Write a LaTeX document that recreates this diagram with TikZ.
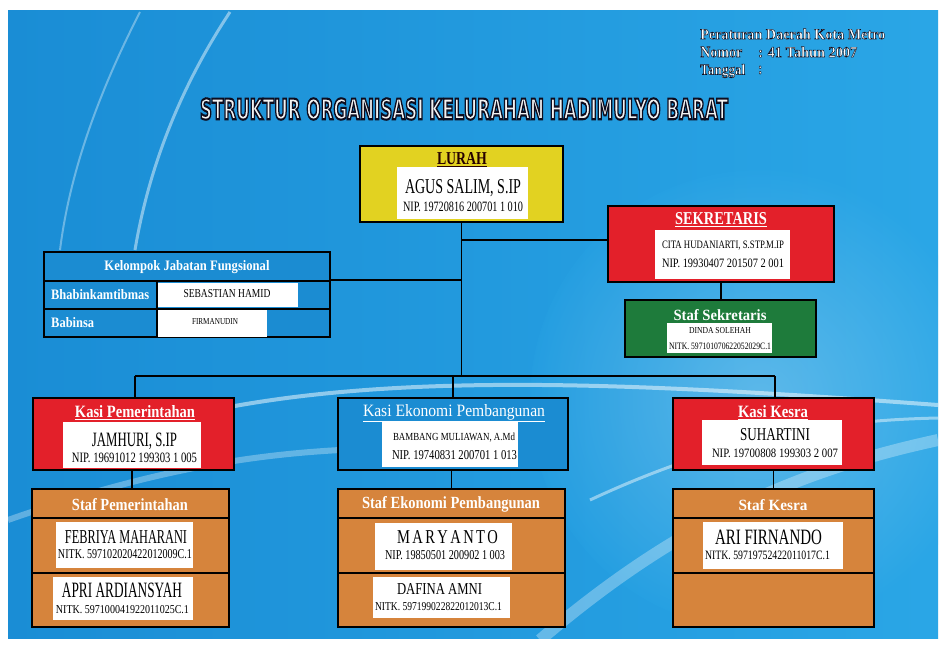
\documentclass[tikz,border=0pt]{standalone}
\usepackage{fontspec}
\usepackage{graphicx}
\setmainfont{Liberation Serif}
\newfontfamily\ttlfont{DejaVu Sans}
\definecolor{bgL}{HTML}{1A8DD5}
\definecolor{bgR}{HTML}{2AA6E6}
\definecolor{lyellow}{HTML}{E2D221}
\definecolor{lred}{HTML}{E3202A}
\definecolor{lgreen}{HTML}{1E7B3B}
\definecolor{lblue}{HTML}{1B8CD2}
\definecolor{lorange}{HTML}{D6843C}
\definecolor{ttlgray}{HTML}{F2F2F2}
\newcommand\tx[3]{\resizebox{#1pt}{#2pt}{#3}}
% outlined text: #1 stroke width, #2 fill colour, #3 text (one copy, PDF render mode 2)
\newcommand\olt[3]{{\color{#2}\special{pdf:literal direct 0.05 0.05 0.12 RG 2 Tr #1 w}#3\special{pdf:literal direct 0 Tr}}}
\newcommand\shd[1]{{\color{white}#1}}
\tikzset{
 bx/.style={draw=black, line width=1.8pt, inner sep=0pt},
 wb/.style={fill=white, draw=none, inner sep=0pt},
 sz/.style 2 args={minimum width=#1pt, minimum height=#2pt},
 lbl/.style={inner sep=0pt, text=black},
 wlbl/.style={inner sep=0pt, text=white},
 conn/.style={draw=black, line width=1.6pt},
}
\begin{document}
\begin{tikzpicture}[x=1pt,y=-1pt]
% page and background
\fill[white] (0,0) rectangle (945,646);
\useasboundingbox (0,0) rectangle (945,646);
\shade[left color=bgL, right color=bgR] (8,10) rectangle (938,638);
\begin{scope}
\clip (8,10) rectangle (938,638);
\shade[inner color=white, outer color=bgR, opacity=0.25] (760,400) circle (230pt);
\draw[white, opacity=0.45, line width=3pt] (135,250) .. controls (150,160) and (185,80) .. (230,12);
\draw[white, opacity=0.35, line width=2pt] (60,250) .. controls (70,170) and (100,90) .. (140,12);
\draw[white, opacity=0.5, line width=4pt] (150,425) .. controls (350,370) and (600,380) .. (938,405);
\draw[white, opacity=0.3, line width=12pt] (540,640) .. controls (680,520) and (800,470) .. (938,440);
\draw[white, opacity=0.45, line width=3pt] (590,500) .. controls (740,430) and (850,420) .. (938,418);
\draw[white, opacity=0.3, line width=6pt] (8,520) .. controls (150,470) and (250,455) .. (340,450);
\end{scope}

% header texts
\node[wlbl, anchor=west] (hd1) at (700,34) {\olt{0.45}{white}{\tx{185}{10.5}{\fontsize{15}{18}\selectfont\bfseries Peraturan Daerah Kota Metro}}};
\node[wlbl, anchor=west] (hd2) at (700,52) {\olt{0.45}{white}{\tx{42}{10.5}{\fontsize{15}{18}\selectfont\bfseries Nomor}}};
\node[wlbl, anchor=west] (hd2b) at (758,52) {\olt{0.45}{white}{\tx{99}{10.5}{\fontsize{15}{18}\selectfont\bfseries : 41 Tahun 2007}}};
\node[wlbl, anchor=west] (hd3) at (700,71) {\olt{0.45}{white}{\tx{45}{10.5}{\fontsize{15}{18}\selectfont\bfseries Tanggal}}};
\node[wlbl, anchor=west] (hd3b) at (758,70) {\olt{0.45}{white}{\tx{4}{8}{\fontsize{15}{18}\selectfont\bfseries :}}};

% title
\node[inner sep=0pt] (ttl) at (464,109) {\olt{1.5}{ttlgray}{\tx{528}{21}{\fontsize{20}{24}\selectfont\ttlfont\bfseries STRUKTUR ORGANISASI KELURAHAN HADIMULYO BARAT}}};

% ---- boxes ----
\node[bx, fill=lyellow, sz={203}{76}] (lurah) at (461.5,184) {};
\node[wb, sz={131}{52}] (lurahW) at (462.5,193) {};
\node[lbl, text=black!85!red] (lurahT) at (462,160) {\tx{50}{12}{\fontsize{17}{20}\selectfont\bfseries\underline{LURAH}}};
\node[lbl] (lurahN) at (463,188) {\tx{116}{14}{AGUS SALIM, S.IP}};
\node[lbl] (lurahP) at (463,207) {\tx{120}{9.5}{NIP. 19720816 200701 1 010}};

\node[bx, fill=lred, sz={226}{76}] (sek) at (721,244) {};
\node[wb, sz={135}{49}] (sekW) at (722.5,254.5) {};
\node[wlbl] (sekT) at (721,220) {\shd{\tx{92}{12}{\fontsize{17}{20}\selectfont\bfseries\underline{SEKRETARIS}}}};
\node[lbl] (sekN) at (723,246) {\tx{122}{7.5}{CITA HUDANIARTI, S.STP.M.IP}};
\node[lbl] (sekP) at (723,263) {\tx{122}{8.5}{NIP. 19930407 201507 2 001}};

\node[bx, fill=lgreen, sz={191}{57}] (ssek) at (720.5,328.5) {};
\node[wb, sz={105}{30}] (ssekW) at (719.5,338) {};
\node[wlbl] (ssekT) at (720,315) {\shd{\tx{93}{11}{\fontsize{16}{19}\selectfont\bfseries Staf Sekretaris}}};
\node[lbl] (ssekN) at (720,331) {\tx{62}{6}{DINDA SOLEHAH}};
\node[lbl] (ssekP) at (720,346) {\tx{102}{6.5}{NITK. 597101070622052029C.1}};

% kelompok jabatan fungsional
\node[bx, fill=lblue, sz={286}{29}] (kjf) at (187,266.5) {};
\node[bx, fill=lblue, sz={113}{28}] (kjfA1) at (100.5,295) {};
\node[bx, fill=lblue, sz={173}{28}] (kjfB1) at (243.5,295) {};
\node[bx, fill=lblue, sz={113}{28}] (kjfA2) at (100.5,323) {};
\node[bx, fill=lblue, sz={173}{28}] (kjfB2) at (243.5,323) {};
\node[wb, sz={140}{24}] (sebW) at (228,295) {};
\node[wb, sz={109}{27}] (firW) at (212.5,323.5) {};
\node[wlbl] (kjfT) at (187,267) {\shd{\tx{165}{10}{\fontsize{15}{18}\selectfont\bfseries Kelompok Jabatan Fungsional}}};
\node[wlbl, anchor=west] (bhab) at (51,295) {\shd{\tx{98}{10}{\fontsize{15}{18}\selectfont\bfseries Bhabinkamtibmas}}};
\node[wlbl, anchor=west] (babi) at (51,323) {\shd{\tx{43}{10}{\fontsize{15}{18}\selectfont\bfseries Babinsa}}};
\node[lbl] (sebT) at (227,294) {\tx{87}{8}{SEBASTIAN HAMID}};
\node[lbl] (firT) at (215,322) {\tx{46}{6}{FIRMANUDIN}};

% kasi boxes
\node[bx, fill=lred, sz={201}{72}] (kpem) at (133.5,434) {};
\node[wb, sz={138}{46}] (kpemW) at (132,445) {};
\node[wlbl] (kpemT) at (135,413) {\shd{\tx{120}{12}{\fontsize{17}{20}\selectfont\bfseries\underline{Kasi Pemerintahan}}}};
\node[lbl] (kpemN) at (134.5,441) {\tx{85}{13.5}{JAMHURI, S.IP}};
\node[lbl] (kpemP) at (134.5,458) {\tx{125}{9.5}{NIP. 19691012 199303 1 005}};

\node[bx, fill=lblue, sz={230}{72}] (keko) at (453,434) {};
\node[wb, sz={136}{45}] (kekoW) at (450,444.5) {};
\node[wlbl] (kekoT) at (454,413) {\shd{\tx{182}{12}{\fontsize{17}{20}\selectfont\underline{Kasi Ekonomi Pembangunan}}}};
\node[lbl] (kekoN) at (454,438) {\tx{122}{7.5}{BAMBANG MULIAWAN, A.Md}};
\node[lbl] (kekoP) at (454.5,455) {\tx{125}{9}{NIP. 19740831 200701 1 013}};

\node[bx, fill=lred, sz={201}{72}] (kkes) at (773.5,434) {};
\node[wb, sz={140}{45}] (kkesW) at (772,442.5) {};
\node[wlbl] (kkesT) at (773,413) {\shd{\tx{70}{12}{\fontsize{17}{20}\selectfont\bfseries\underline{Kasi Kesra}}}};
\node[lbl] (kkesN) at (775,435) {\tx{70}{12}{SUHARTINI}};
\node[lbl] (kkesP) at (775,453) {\tx{126}{8.5}{NIP. 19700808 199303 2 007}};

% staf pemerintahan
\node[bx, fill=lorange, sz={197}{29}] (spem) at (130.5,503.5) {};
\node[bx, fill=lorange, sz={197}{55}] (spem1) at (130.5,545.5) {};
\node[bx, fill=lorange, sz={197}{54}] (spem2) at (130.5,600) {};
\node[wb, sz={137}{46}] (spem1W) at (124.5,545) {};
\node[wb, sz={140}{43}] (spem2W) at (123,598.5) {};
\node[wlbl] (spemT) at (130,505) {\shd{\tx{116}{12}{\fontsize{17}{20}\selectfont\bfseries Staf Pemerintahan}}};
\node[lbl] (spemN1) at (126,537) {\tx{122}{13}{FEBRIYA MAHARANI}};
\node[lbl] (spemP1) at (125,554) {\tx{134}{9}{NITK. 597102020422012009C.1}};
\node[lbl] (spemN2) at (122,590) {\tx{120}{14.5}{APRI ARDIANSYAH}};
\node[lbl] (spemP2) at (122.5,610) {\tx{133}{8}{NITK. 597100041922011025C.1}};

% staf ekonomi pembangunan
\node[bx, fill=lorange, sz={227}{29}] (seko) at (451.5,503.5) {};
\node[bx, fill=lorange, sz={227}{55}] (seko1) at (451.5,545.5) {};
\node[bx, fill=lorange, sz={227}{54}] (seko2) at (451.5,600) {};
\node[wb, sz={137}{47}] (seko1W) at (443.5,546.5) {};
\node[wb, sz={137}{41}] (seko2W) at (441.5,597.5) {};
\node[wlbl] (sekoT) at (451,504) {\shd{\tx{178}{12}{\fontsize{17}{20}\selectfont\bfseries Staf Ekonomi Pembangunan}}};
\node[lbl] (sekoN1) at (447.5,537) {\tx{101}{13}{M\,A\,R\,Y\,A\,N\,T\,O}};
\node[lbl] (sekoP1) at (445,555) {\tx{120}{9}{NIP. 19850501 200902 1 003}};
\node[lbl] (sekoN2) at (439.5,589) {\tx{85}{11}{DAFINA AMNI}};
\node[lbl] (sekoP2) at (438.5,607) {\tx{127}{8}{NITK. 597199022822012013C.1}};

% staf kesra
\node[bx, fill=lorange, sz={201}{29}] (skes) at (773.5,503.5) {};
\node[bx, fill=lorange, sz={201}{55}] (skes1) at (773.5,545.5) {};
\node[bx, fill=lorange, sz={201}{54}] (skes2) at (773.5,600) {};
\node[wb, sz={140}{47}] (skes1W) at (773,545.5) {};
\node[wlbl] (skesT) at (773,505) {\shd{\tx{69}{11}{\fontsize{16}{19}\selectfont\bfseries Staf Kesra}}};
\node[lbl] (skesN) at (768.5,537) {\tx{107}{14.5}{ARI FIRNANDO}};
\node[lbl] (skesP) at (767.5,555) {\tx{125}{8.5}{NITK. 59719752422011017C.1}};

% ---- connectors ----
\coordinate (busL) at (135,376);
\coordinate (busR) at (775,376);
\draw[conn] (busL) -- (busR);
\draw[conn] (lurah.south) -- (lurah.south |- busL);
\draw[conn] ([yshift=4pt]sek.west) -- ([yshift=4pt]sek.west -| lurah.south);
\draw[conn] (kjfB1.north east) -- (kjfB1.north east -| lurah.south);
\draw[conn] (sek.south) -- (ssek.north -| sek.south);
\draw[conn] (kpem.north -| busL) -- (busL);
\draw[conn] (keko.north) -- (keko.north |- busL);
\draw[conn] (kkes.north -| busR) -- (busR);
\draw[conn] ([xshift=-1.5pt]kpem.south) -- ([xshift=-1.5pt]kpem.south |- spem.north);
\draw[conn] ([xshift=-1.5pt]keko.south) -- ([xshift=-1.5pt]keko.south |- seko.north);
\draw[conn] (kkes.south) -- (kkes.south |- skes.north);
\end{tikzpicture}
\end{document}
